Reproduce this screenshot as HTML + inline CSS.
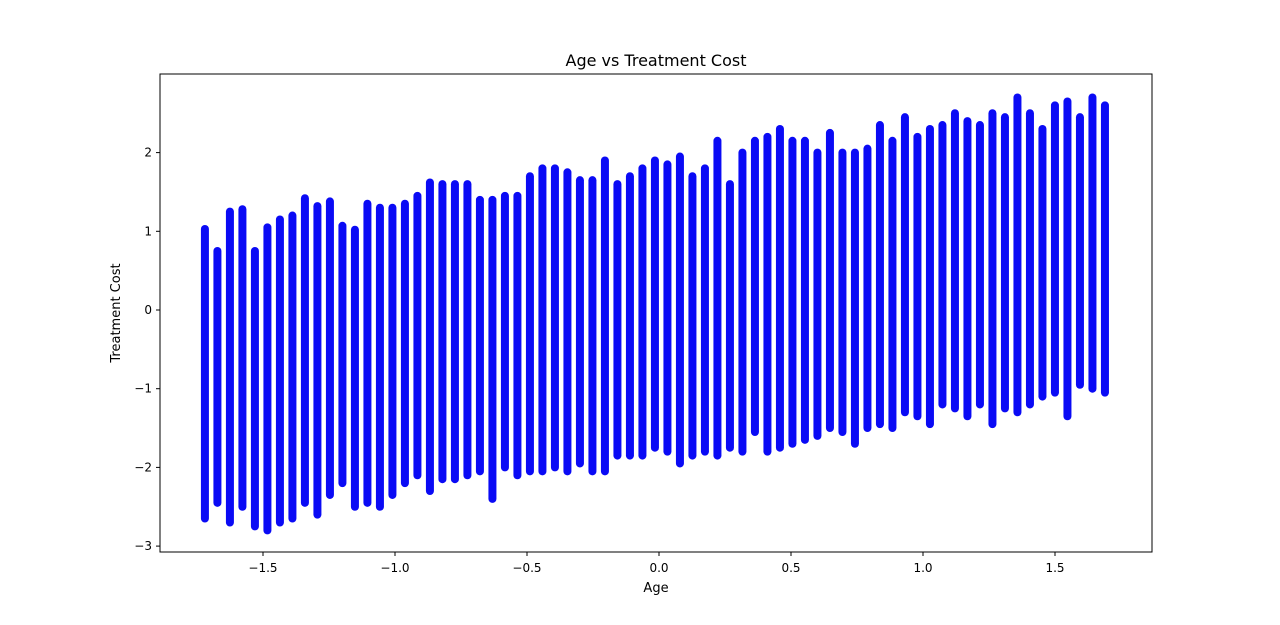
<!DOCTYPE html>
<html><head><meta charset="utf-8"><style>
body{margin:0;background:#fff;}
svg text{font-family:"DejaVu Sans","Liberation Sans",sans-serif;fill:#000;}
</style></head><body>
<svg id="chart" width="1280" height="620" xmlns="http://www.w3.org/2000/svg">
<rect width="1280" height="620" fill="#fff"/>
<text x="656" y="66" font-size="16" text-anchor="middle">Age vs Treatment Cost</text>
<g id="marks"></g>
<rect x="160" y="74" width="992" height="478" fill="none" stroke="#000" stroke-width="1"/>
<g id="xticks"></g>
<g id="yticks"></g>
<text x="656" y="592" font-size="13" text-anchor="middle">Age</text>
<text x="120" y="313" font-size="13" text-anchor="middle" transform="rotate(-90 120 313)">Treatment Cost</text>
</svg>
<script>
const ageStart = -1.72;
const ageStep = 0.04735;
const colMax = [1.03,0.75,1.25,1.28,0.75,1.05,1.15,1.2,1.42,1.32,1.38,1.07,1.02,1.35,1.3,1.3,1.35,1.45,1.62,1.6,1.6,1.6,1.4,1.4,1.45,1.45,1.7,1.8,1.8,1.75,1.65,1.65,1.9,1.6,1.7,1.8,1.9,1.85,1.95,1.7,1.8,2.15,1.6,2.0,2.15,2.2,2.3,2.15,2.15,2.0,2.25,2.0,2.0,2.05,2.35,2.15,2.45,2.2,2.3,2.35,2.5,2.4,2.35,2.5,2.45,2.7,2.5,2.3,2.6,2.65,2.45,2.7,2.6];
const colMin = [-2.65,-2.45,-2.7,-2.5,-2.75,-2.8,-2.7,-2.65,-2.45,-2.6,-2.35,-2.2,-2.5,-2.45,-2.5,-2.35,-2.2,-2.1,-2.3,-2.15,-2.15,-2.1,-2.05,-2.4,-2.0,-2.1,-2.05,-2.05,-2.0,-2.05,-1.95,-2.05,-2.05,-1.85,-1.85,-1.85,-1.75,-1.8,-1.95,-1.85,-1.8,-1.85,-1.75,-1.8,-1.55,-1.8,-1.75,-1.7,-1.65,-1.6,-1.5,-1.55,-1.7,-1.5,-1.45,-1.5,-1.3,-1.35,-1.45,-1.2,-1.25,-1.35,-1.2,-1.45,-1.25,-1.3,-1.2,-1.1,-1.05,-1.35,-0.95,-1.0,-1.05];
const xTicks = [-1.5,-1.0,-0.5,0.0,0.5,1.0,1.5];
const xTickLabels = ["\u22121.5","\u22121.0","\u22120.5","0.0","0.5","1.0","1.5"];
const yTicks = [-3,-2,-1,0,1,2];
const yTickLabels = ["\u22123","\u22122","\u22121","0","1","2"];

const NS="http://www.w3.org/2000/svg";
function xs(v){return 659+264*v;}
function ys(v){return 310-78.7*v;}
const marks=document.getElementById('marks');
for(let i=0;i<colMax.length;i++){
  const age=ageStart+ageStep*i;
  const r=document.createElementNS(NS,'rect');
  const y1=ys(colMax[i])-4, y2=ys(colMin[i])+4;
  r.setAttribute('x',xs(age)-4);r.setAttribute('y',y1);
  r.setAttribute('width',8);r.setAttribute('height',y2-y1);
  r.setAttribute('rx',4);r.setAttribute('fill','#0a0af5');
  
  
  marks.appendChild(r);
}
const xg=document.getElementById('xticks');
xTicks.forEach((v,i)=>{
  const l=document.createElementNS(NS,'line');
  l.setAttribute('x1',xs(v));l.setAttribute('x2',xs(v));l.setAttribute('y1',552);l.setAttribute('y2',556);l.setAttribute('stroke','#000');
  
  
  xg.appendChild(l);
  const t=document.createElementNS(NS,'text');
  t.setAttribute('x',xs(v));t.setAttribute('y',572);t.setAttribute('font-size','12');t.setAttribute('text-anchor','middle');
  t.textContent=xTickLabels[i];
  
  
  xg.appendChild(t);
});
const yg=document.getElementById('yticks');
yTicks.forEach((v,i)=>{
  const l=document.createElementNS(NS,'line');
  l.setAttribute('x1',156);l.setAttribute('x2',160);l.setAttribute('y1',ys(v));l.setAttribute('y2',ys(v));l.setAttribute('stroke','#000');
  
  
  yg.appendChild(l);
  const t=document.createElementNS(NS,'text');
  t.setAttribute('x',152);t.setAttribute('y',ys(v)+4);t.setAttribute('font-size','12');t.setAttribute('text-anchor','end');
  t.textContent=yTickLabels[i];
  
  
  yg.appendChild(t);
});
</script>
</body></html>
